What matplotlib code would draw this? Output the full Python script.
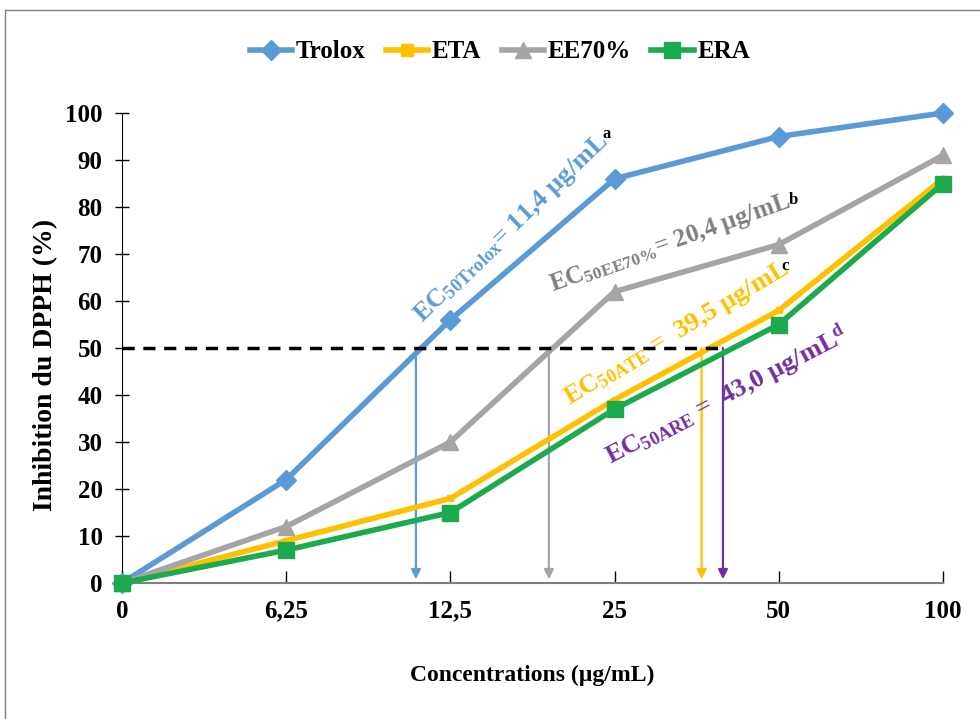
import matplotlib
matplotlib.use("Agg")
import matplotlib.pyplot as plt
from matplotlib.lines import Line2D

plt.rcParams['font.family'] = ['Liberation Serif', 'DejaVu Serif']
plt.rcParams['font.weight'] = 'bold'
plt.rcParams['mathtext.fontset'] = 'custom'
plt.rcParams['mathtext.rm'] = 'Liberation Serif:bold'
plt.rcParams['mathtext.it'] = 'Liberation Serif:bold'
plt.rcParams['mathtext.bf'] = 'Liberation Serif:bold'

categories = ["0", "6,25", "12,5", "25", "50", "100"]
trolox = [0, 22, 56, 86, 95, 100]
eta = [0, 9, 18, 39, 58, 86]
ee70 = [0, 12, 30, 62, 72, 91]
era = [0, 7, 15, 37, 55, 85]

# EC50 arrow positions (category-axis coordinates)
ec50_pos = {"Trolox": 1.79, "EE70%": 2.60, "ETA": 3.53, "ERA": 3.66}

c_trolox = "#5B9BD5"
c_eta = "#FFC000"
c_ee = "#A5A5A5"
c_era = "#1DAA4E"
c_purple = "#7030A0"
c_greytxt = "#7F7F7F"

fig = plt.figure(figsize=(9.8, 7.19), dpi=100)
ax = fig.add_axes([122/980, 1-583/719, (943-122)/980, (583-113)/719])

x = list(range(len(categories)))
ax.plot(x, trolox, color=c_trolox, lw=4, marker='D', ms=10, clip_on=False, zorder=3)
ax.plot(x, eta, color=c_eta, lw=4, marker='s', ms=5, clip_on=False, zorder=3)
ax.plot(x, ee70, color=c_ee, lw=4, marker='^', ms=12, clip_on=False, zorder=3)
ax.plot(x, era, color=c_era, lw=4, marker='s', ms=12, clip_on=False, zorder=4)

# 50% dashed line
ax.plot([0, 3.68], [50, 50], color='black', lw=2.5, ls=(0, (3.5, 2.5)), zorder=5)

# arrows
arrow_colors = {"Trolox": c_trolox, "EE70%": c_ee, "ETA": c_eta, "ERA": c_purple}
for k, xp in ec50_pos.items():
    ax.annotate("", xy=(xp, 0.8), xytext=(xp, 50),
                arrowprops=dict(arrowstyle='-|>', color=arrow_colors[k], lw=1.6,
                                mutation_scale=14, shrinkA=0, shrinkB=0), zorder=2)

fs = 19
ax.text(2.37, 75.5, r"EC$_{\mathrm{50Trolox}}$= 11,4 µg/mL", color=c_trolox, fontsize=fs,
        rotation=44, ha='center', va='center', rotation_mode='anchor')
ax.text(2.95, 95.5, "a", color='black', fontsize=12, ha='center', va='center')
ax.text(3.34, 72.3, r"EC$_{\mathrm{50EE70\%}}$= 20,4 µg/mL", color=c_greytxt, fontsize=18,
        rotation=19.5, ha='center', va='center', rotation_mode='anchor')
ax.text(4.09, 81.5, "b", color='black', fontsize=12, ha='center', va='center')
ax.text(3.38, 53, r"EC$_{\mathrm{50ATE}}$ =  39,5 µg/mL", color=c_eta, fontsize=fs,
        rotation=31, ha='center', va='center', rotation_mode='anchor')
ax.text(4.04, 67.5, "c", color='black', fontsize=12, ha='center', va='center')
ax.text(3.68, 40, r"EC$_{\mathrm{50ARE}}$ =  43,0 µg/mL$^{\mathrm{d}}$", color=c_purple, fontsize=fs,
        rotation=27.5, ha='center', va='center', rotation_mode='anchor')

ax.set_xlim(0, 5)
ax.set_ylim(0, 100)
ax.set_xticks(x)
ax.set_xticklabels(categories)
ax.set_yticks(range(0, 101, 10))
ax.tick_params(axis='x', direction='in', length=9, width=1, colors='black', labelsize=18, pad=12)
ax.tick_params(axis='y', direction='inout', length=10, width=1, labelsize=18, pad=9)
for lab in ax.get_xticklabels() + ax.get_yticklabels():
    lab.set_fontweight('bold')
ax.spines['top'].set_visible(False)
ax.spines['right'].set_visible(False)
ax.spines['bottom'].set_color('#7F7F7F')
ax.spines['bottom'].set_linewidth(1.5)
ax.spines['left'].set_color('black')
ax.set_xlabel("Concentrations (µg/mL)", fontsize=17, fontweight='bold', labelpad=30)
ax.set_ylabel("Inhibition du DPPH (%)", fontsize=20, fontweight='bold')
ax.yaxis.set_label_coords(-0.078, 0.464)

handles = [
    Line2D([], [], color=c_trolox, lw=4, marker='D', ms=10),
    Line2D([], [], color=c_eta, lw=4, marker='s', ms=9),
    Line2D([], [], color=c_ee, lw=4, marker='^', ms=11),
    Line2D([], [], color=c_era, lw=4, marker='s', ms=11),
]
fig.legend(handles, ["Trolox", "ETA", "EE70%", "ERA"], loc='center',
           bbox_to_anchor=(500/980, 1-52/719), ncol=4, frameon=False,
           prop={'weight': 'bold', 'size': 18}, handlelength=1.7, columnspacing=0.8,
           handletextpad=0.15)

# border
fig.add_artist(Line2D([5/980, 5/980], [0, 1-10/719], color='#808080', lw=1, transform=fig.transFigure))
fig.add_artist(Line2D([5/980, 1], [1-10/719, 1-10/719], color='#808080', lw=1, transform=fig.transFigure))

fig.savefig("out.png", dpi=100)
